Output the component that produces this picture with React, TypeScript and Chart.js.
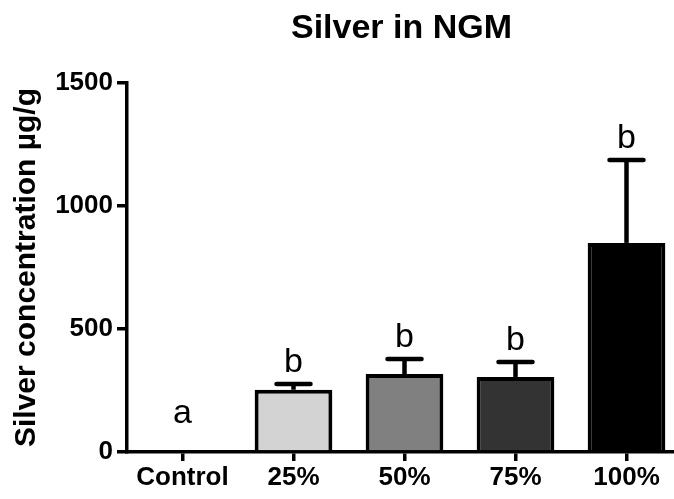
import React, { useEffect, useRef } from "react";
import { Chart, registerables } from "chart.js";

Chart.register(...registerables);

const title = "Silver in NGM";
const yTitle = "Silver concentration µg/g";
const categories = ["Control", "25%", "50%", "75%", "100%"];
const means = [0, 253, 317, 305, 850];
const errors = [0, 23, 61, 61, 337];
const letters = ["a", "b", "b", "b", "b"];
const barColors = ["#ffffff", "#d3d3d3", "#808080", "#333333", "#000000"];
const yTicks = [0, 500, 1000, 1500];

const FONT = "'Liberation Sans', Arial, Helvetica, sans-serif";

const errorPlugin = {
  id: "errorLetters",
  afterDatasetsDraw(chart: any) {
    const ctx = chart.ctx;
    const meta = chart.getDatasetMeta(0);
    const y = chart.scales.y;
    ctx.save();
    ctx.strokeStyle = "#000";
    ctx.fillStyle = "#000";
    meta.data.forEach((bar: any, i: number) => {
      const x = bar.x;
      const yb = y.getPixelForValue(means[i]);
      const yt = y.getPixelForValue(means[i] + errors[i]);
      if (errors[i] > 0) {
        ctx.lineWidth = 4.5;
        ctx.lineCap = "butt";
        ctx.beginPath();
        ctx.moveTo(x, yb);
        ctx.lineTo(x, yt);
        ctx.stroke();
        ctx.lineCap = "round";
        ctx.beginPath();
        ctx.moveTo(x - 17, yt);
        ctx.lineTo(x + 17, yt);
        ctx.stroke();
      }
      ctx.font = `34px ${FONT}`;
      ctx.textAlign = "center";
      ctx.textBaseline = "alphabetic";
      const base = Math.min(yt - 12, y.getPixelForValue(0) - 29);
      ctx.fillText(letters[i], x, base);
    });
    ctx.restore();
  },
  afterDraw(chart: any) {
    const ctx = chart.ctx;
    const a = chart.chartArea;
    ctx.save();
    ctx.fillStyle = "#000";
    ctx.font = `bold 34px ${FONT}`;
    ctx.textAlign = "center";
    ctx.textBaseline = "alphabetic";
    ctx.fillText(title, (a.left + a.right) / 2 - 3, a.top - 45);
    ctx.restore();
  },
};

export default function App() {
  const ref = useRef<HTMLCanvasElement | null>(null);
  useEffect(() => {
    if (!ref.current) return;
    Chart.defaults.font.family = FONT;
    const chart = new Chart(ref.current, {
      type: "bar",
      data: {
        labels: categories,
        datasets: [
          {
            data: means,
            backgroundColor: barColors,
            borderColor: "#000",
            borderWidth: 4,
            barPercentage: 0.7,
            categoryPercentage: 1,
          },
        ],
      },
      options: {
        responsive: false,
        animation: false,
        devicePixelRatio: 1,
        layout: { padding: { left: 0, right: 2, top: 83, bottom: 0 } },
        plugins: {
          legend: { display: false },
          tooltip: { enabled: false },
          title: { display: false },
        },
        scales: {
          x: {
            type: "category",
            offset: true,
            z: 1,
            grid: {
              display: true,
              drawOnChartArea: false,
              drawTicks: true,
              tickLength: 9,
              lineWidth: 3.5,
              color: "#000",
              offset: false,
            },
            border: { display: true, color: "#000", width: 3.5 },
            ticks: {
              color: "#000",
              font: { size: 26, weight: "bold", family: FONT },
              padding: 1,
              maxRotation: 0,
              autoSkip: false,
            },
            afterFit: (s: any) => {
              s.height = 47;
            },
          },
          y: {
            min: 0,
            max: 1500,
            z: 1,
            afterBuildTicks: (s: any) => {
              s.ticks = yTicks.map((v) => ({ value: v }));
            },
            grid: {
              display: true,
              drawOnChartArea: false,
              drawTicks: true,
              tickLength: 10,
              lineWidth: 3.5,
              color: "#000",
            },
            border: { display: true, color: "#000", width: 3.5 },
            ticks: {
              color: "#000",
              font: { size: 26, weight: "bold", family: FONT },
              padding: 4,
              callback: (v: any) => String(v),
            },
            title: {
              display: true,
              text: yTitle,
              color: "#000",
              font: { size: 30, weight: "bold", family: FONT },
              padding: { top: 9, bottom: 0 },
            },
            afterFit: (s: any) => {
              s.width = 127;
            },
          },
        },
      },
      plugins: [errorPlugin],
    });
    return () => chart.destroy();
  }, []);
  return (
    <div
      style={{
        position: "fixed",
        left: 0,
        top: 0,
        width: 674,
        height: 499,
        overflow: "hidden",
        background: "#fff",
      }}
    >
      <canvas ref={ref} width={684} height={499} style={{ display: "block" }} />
    </div>
  );
}
